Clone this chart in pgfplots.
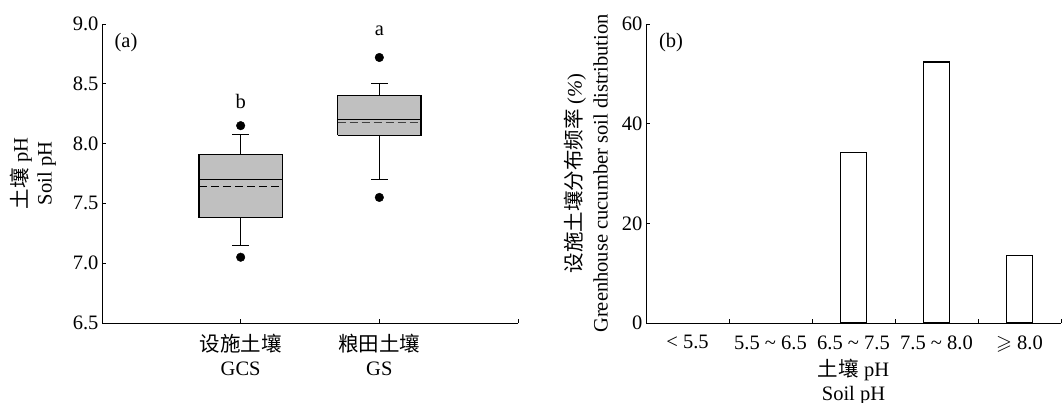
\documentclass[border=0pt]{standalone}
\usepackage{fontspec}
\usepackage{amssymb}
\usepackage{pgfplots}
\pgfplotsset{compat=1.18}
\setmainfont{Liberation Serif}
\newfontfamily\cjk{Noto Sans CJK SC}
\definecolor{boxgray}{RGB}{192,192,192}
\begin{document}
\begin{tikzpicture}
\path[use as bounding box] (0pt,0pt) rectangle (1062pt,402pt);
\pgfplotsset{
  every axis/.append style={font=\fontsize{20.5}{24}\selectfont},
  myaxis/.style={
    scale only axis, axis lines=left, axis line style={-, line width=1pt},
    tick align=inside, major tick length=4pt, minor tick length=4pt,
    tick style={line width=0.9pt, black},
    /pgf/number format/assume math mode=true,
    clip=false,
  },
}
% ---------------- (a) ----------------
\begin{axis}[myaxis, at={(102pt,79pt)}, anchor=south west, width=416pt, height=299pt,
  xmin=0, xmax=3, ymin=6.5, ymax=9.0,
  ytick={6.5,7,7.5,8,8.5,9},
  yticklabel style={/pgf/number format/.cd, fixed, fixed zerofill, precision=1},
  xtick={1,2,3}, xticklabels={{{\cjk 设施土壤}\\GCS}, {{\cjk 粮田土壤}\\GS}, {}},
  xticklabel style={align=center, yshift=-8pt},
  ylabel={{\cjk 土壤} pH\\Soil pH},
  ylabel style={align=center, at={(rel axis cs:0,0.5)}, anchor=center, yshift=69pt},
]
% GCS box (lower quartile, upper quartile)
\addplot[fill=boxgray, draw=black, line width=1.3pt, line join=miter]
  coordinates {(0.7,7.38) (1.3,7.38) (1.3,7.91) (0.7,7.91) (0.7,7.38)};
% GS box
\addplot[fill=boxgray, draw=black, line width=1.3pt, line join=miter]
  coordinates {(1.7,8.07) (2.3,8.07) (2.3,8.40) (1.7,8.40) (1.7,8.07)};
% whiskers
\addplot[draw=black, line width=1pt] coordinates {(1,7.91) (1,8.08)};
\addplot[draw=black, line width=1pt] coordinates {(0.94,8.08) (1.06,8.08)};
\addplot[draw=black, line width=1pt] coordinates {(1,7.38) (1,7.15)};
\addplot[draw=black, line width=1pt] coordinates {(0.94,7.15) (1.06,7.15)};
\addplot[draw=black, line width=1pt] coordinates {(2,8.40) (2,8.50)};
\addplot[draw=black, line width=1pt] coordinates {(1.94,8.50) (2.06,8.50)};
\addplot[draw=black, line width=1pt] coordinates {(2,8.07) (2,7.70)};
\addplot[draw=black, line width=1pt] coordinates {(1.94,7.70) (2.06,7.70)};
% medians
\addplot[draw=black, line width=1pt] coordinates {(0.7,7.70) (1.3,7.70)};
\addplot[draw=black, line width=1pt] coordinates {(1.7,8.20) (2.3,8.20)};
% means (dashed)
\addplot[draw=black, line width=1pt, dash pattern=on 8pt off 4pt] coordinates {(0.7,7.64) (1.3,7.64)};
\addplot[draw=black!75, line width=1pt, dash pattern=on 8pt off 4pt] coordinates {(1.7,8.18) (2.3,8.18)};
% outliers
\addplot[only marks, mark=*, mark size=4.3pt, mark options={fill=black, draw=black}]
  coordinates {(1,8.15) (1,7.05) (2,8.72) (2,7.55)};
\node at (axis cs:1,8.35) {b};
\node at (axis cs:2,8.94) {a};
\end{axis}
\node[font=\fontsize{20.5}{24}\selectfont] at (126pt,359pt) {(a)};
% ---------------- (b) ----------------
\begin{axis}[myaxis, at={(646pt,79pt)}, anchor=south west, width=415pt, height=299pt,
  xmin=0.5, xmax=5.5, ymin=0, ymax=60,
  ytick={0,20,40,60},
  xtick={1,2,3,4,5},
  xticklabels={{< 5.5}, {5.5 \textasciitilde{} 6.5}, {6.5 \textasciitilde{} 7.5}, {7.5 \textasciitilde{} 8.0}, {$\geqslant$ 8.0}},
  xticklabel style={yshift=-9pt},
  every major x tick/.append style={draw=none},
  minor xtick={1.5,2.5,3.5,4.5,5.5},
  xlabel={{\cjk 土壤} pH\\Soil pH},
  xlabel style={align=center, yshift=0pt},
  ylabel={{\cjk 设施土壤分布频率} (\textit{\%})\\[2pt]Greenhouse cucumber soil distribution},
  ylabel style={align=center, at={(rel axis cs:0,0.5)}, anchor=center, yshift=60pt},
]
% classes < 5.5 and 5.5 ~ 6.5 have 0 %
\addplot[ybar, bar width=25.6pt, fill=white, draw=black, line width=1.3pt]
  coordinates {(3,34.2) (4,52.4) (5,13.5)};
\end{axis}
\node[font=\fontsize{20.5}{24}\selectfont] at (671pt,359pt) {(b)};
\end{tikzpicture}
\end{document}
